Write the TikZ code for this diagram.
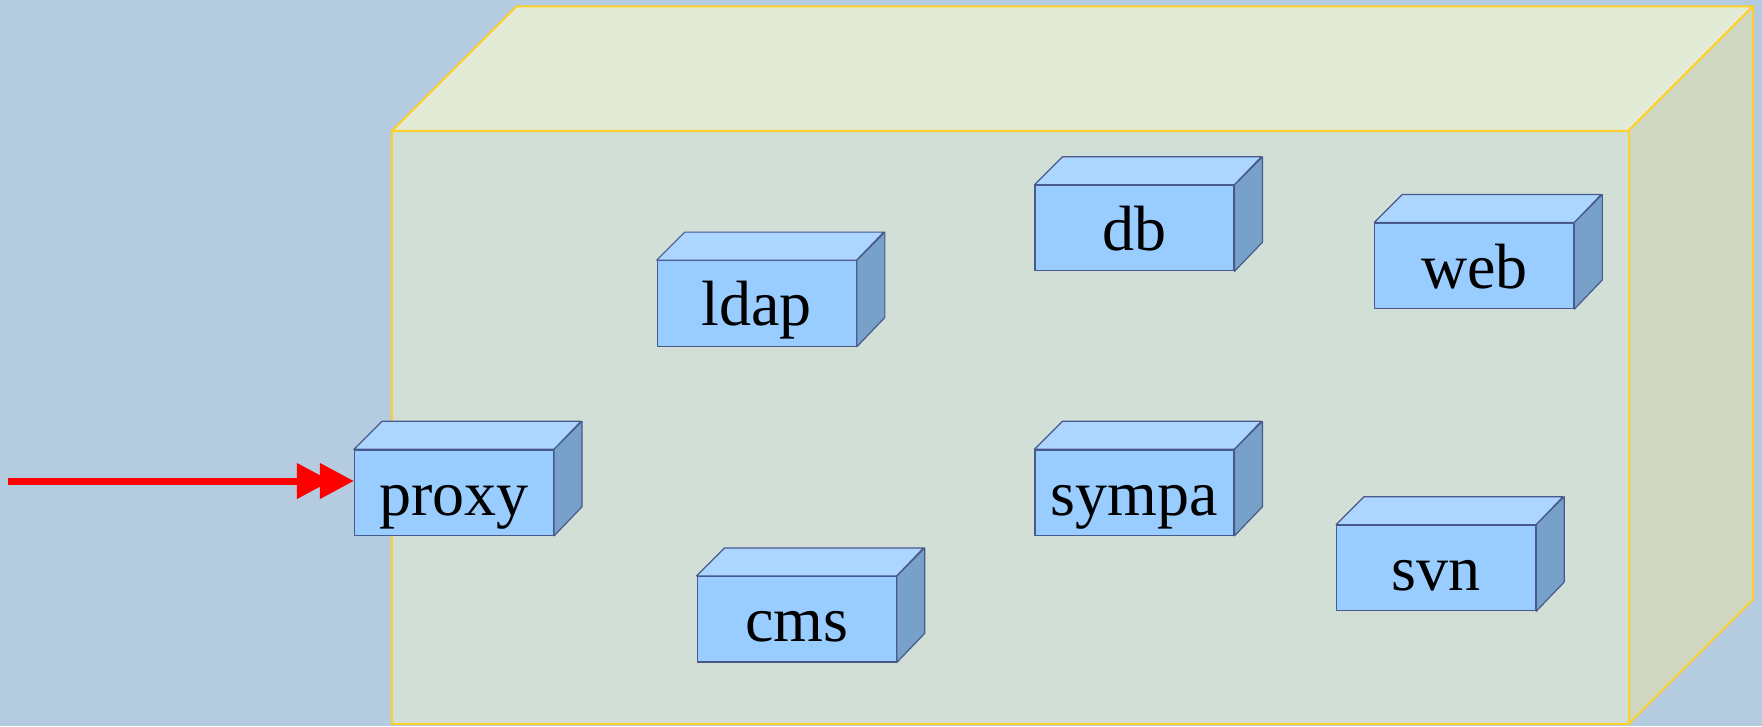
\documentclass[tikz,border=0pt]{standalone}
\usepackage{fontspec}
\setmainfont{Liberation Serif}
\usetikzlibrary{arrows.meta}
\definecolor{bgcol}{RGB}{180,203,224}
\definecolor{bigfront}{RGB}{210,223,214}
\definecolor{bigtop}{RGB}{227,235,215}
\definecolor{bigside}{RGB}{207,215,193}
\definecolor{bigline}{RGB}{255,208,40}
\definecolor{srvfront}{RGB}{153,204,255}
\definecolor{srvtop}{RGB}{172,213,255}
\definecolor{srvside}{RGB}{119,161,201}
\definecolor{srvline}{RGB}{72,90,140}
\tikzset{
  srv/.style={draw=srvline, fill=srvfront, line width=1.2pt, line join=round,
    minimum width=198.9pt, minimum height=85.4pt, inner sep=0pt,
    text height=45pt, text depth=0pt, font=\fontsize{64}{70}\selectfont},
  srvtopface/.style={draw=srvline, fill=srvtop, line width=1.2pt, line join=round},
  srvsideface/.style={draw=srvline, fill=srvside, line width=1.2pt, line join=round},
  bigface/.style={draw=bigline, line width=2pt, line join=round},
  inarrow/.style={draw=red, line width=7pt,
    -{Triangle[length=34pt,width=34pt,sep=-11pt]Triangle[length=34pt,width=34pt]}, red}
}
\newcommand\srvfaces[1]{%
  \path[srvtopface] (#1.north west) -- ++(28,-28) -- ++(198.9,0) -- (#1.north east) -- cycle;
  \path[srvsideface] (#1.north east) -- ++(28,-28) -- ++(0,85.4) -- (#1.south east) -- cycle;
}
\begin{document}
\begin{tikzpicture}[x=1pt,y=-1pt]
\fill[bgcol] (0,0) rectangle (1762,726);
\useasboundingbox (0,0) rectangle (1762,726);
% big container box
\path[bigface, fill=bigtop] (392.2,130.8) -- (516.7,6.3) -- (1753,6.3) -- (1628.5,130.8) -- cycle;
\path[bigface, fill=bigside] (1628.5,130.8) -- (1753,6.3) -- (1753,599.5) -- (1628.5,724) -- cycle;
\path[bigface, fill=bigfront] (392.2,130.8) rectangle (1628.5,724);
% servers
\node[srv] (ldap)  at (756.8,303.4) {ldap};
\node[srv] (db)    at (1134.4,228.1) {db};
\node[srv] (web)   at (1474.3,265.8) {web};
\node[srv] (proxy) at (454.0,492.6) {proxy};
\node[srv] (sympa) at (1134.4,492.6) {sympa};
\node[srv] (cms)   at (796.7,619.2) {cms};
\node[srv] (svn)   at (1436.1,568.0) {svn};
\srvfaces{ldap}
\srvfaces{db}
\srvfaces{web}
\srvfaces{proxy}
\srvfaces{sympa}
\srvfaces{cms}
\srvfaces{svn}
% incoming arrow
\coordinate (src) at (8,481);
\draw[inarrow] (src) -- (src -| proxy.west);
\end{tikzpicture}
\end{document}
